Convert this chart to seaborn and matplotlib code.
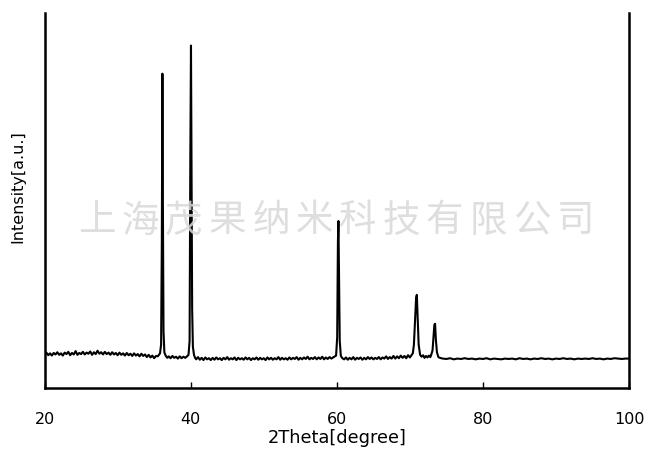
import matplotlib
matplotlib.use("Agg")
import matplotlib.pyplot as plt
import seaborn as sns
import numpy as np
import pandas as pd

# ── XRD pattern (2theta in degrees, counts a.u.) ──
two_theta = [
    # 20 - 35.5 noisy baseline
    20.00, 20.25, 20.50, 20.75, 21.00, 21.25, 21.50, 21.75, 22.00, 22.25,
    22.50, 22.75, 23.00, 23.25, 23.50, 23.75, 24.00, 24.25, 24.50, 24.75,
    25.00, 25.25, 25.50, 25.75, 26.00, 26.25, 26.50, 26.75, 27.00, 27.25,
    27.50, 27.75, 28.00, 28.25, 28.50, 28.75, 29.00, 29.25, 29.50, 29.75,
    30.00, 30.25, 30.50, 30.75, 31.00, 31.25, 31.50, 31.75, 32.00, 32.25,
    32.50, 32.75, 33.00, 33.25, 33.50, 33.75, 34.00, 34.25, 34.50, 34.75,
    35.00, 35.25, 35.50,
    # peaks at 36.1 and 40.0
    35.80, 35.95, 36.05, 36.13, 36.20, 36.28, 36.40, 36.60,
    36.80, 37.00, 37.25, 37.50, 37.75, 38.00, 38.25, 38.50, 38.75, 39.00,
    39.25, 39.50, 39.70, 39.85, 39.95, 40.04, 40.10, 40.20, 40.30, 40.45,
    40.60,
    # 40.75 - 59.75 baseline
    40.75, 41.00, 41.25, 41.50, 41.75, 42.00, 42.25, 42.50, 42.75, 43.00,
    43.25, 43.50, 43.75, 44.00, 44.25, 44.50, 44.75, 45.00, 45.25, 45.50,
    45.75, 46.00, 46.25, 46.50, 46.75, 47.00, 47.25, 47.50, 47.75, 48.00,
    48.25, 48.50, 48.75, 49.00, 49.25, 49.50, 49.75, 50.00, 50.25, 50.50,
    50.75, 51.00, 51.25, 51.50, 51.75, 52.00, 52.25, 52.50, 52.75, 53.00,
    53.25, 53.50, 53.75, 54.00, 54.25, 54.50, 54.75, 55.00, 55.25, 55.50,
    55.75, 56.00, 56.25, 56.50, 56.75, 57.00, 57.25, 57.50, 57.75, 58.00,
    58.25, 58.50, 58.75, 59.00, 59.25, 59.50, 59.75,
    # peak at 60.2
    59.90, 60.05, 60.15, 60.22, 60.30, 60.40, 60.55,
    # 60.75 - 70.25 baseline
    60.75, 61.00, 61.25, 61.50, 61.75, 62.00, 62.25, 62.50, 62.75, 63.00,
    63.25, 63.50, 63.75, 64.00, 64.25, 64.50, 64.75, 65.00, 65.25, 65.50,
    65.75, 66.00, 66.25, 66.50, 66.75, 67.00, 67.25, 67.50, 67.75, 68.00,
    68.25, 68.50, 68.75, 69.00, 69.25, 69.50, 69.75, 70.00, 70.25,
    # peaks at 70.9 and 73.4
    70.40, 70.55, 70.75, 70.85, 70.95, 71.05, 71.20, 71.40, 71.60, 71.80,
    72.00, 72.20, 72.40, 72.60, 72.80, 72.95, 73.10, 73.25, 73.35, 73.45,
    73.55, 73.70, 73.90, 74.10, 74.30,
    # 74.5 - 100 quiet baseline
    74.5, 75.0, 75.5, 76.0, 76.5, 77.0, 77.5, 78.0, 78.5, 79.0,
    79.5, 80.0, 80.5, 81.0, 81.5, 82.0, 82.5, 83.0, 83.5, 84.0,
    84.5, 85.0, 85.5, 86.0, 86.5, 87.0, 87.5, 88.0, 88.5, 89.0,
    89.5, 90.0, 90.5, 91.0, 91.5, 92.0, 92.5, 93.0, 93.5, 94.0,
    94.5, 95.0, 95.5, 96.0, 96.5, 97.0, 97.5, 98.0, 98.5, 99.0,
    99.5, 100.0,
]
intensity = [
    88, 94, 87, 92, 86, 93, 89, 95, 88, 92,
    86, 94, 90, 96, 87, 93, 89, 98, 88, 93,
    90, 96, 89, 94, 91, 97, 88, 95, 90, 99,
    91, 95, 89, 96, 90, 94, 88, 95, 89, 93,
    87, 94, 88, 92, 86, 93, 87, 91, 85, 92,
    86, 90, 84, 91, 85, 89, 82, 88, 81, 86,
    79, 85, 84,
    92, 115, 390, 838, 470, 150, 94, 85,
    80, 84, 79, 85, 80, 83, 78, 84, 79, 83,
    80, 84, 88, 125, 610, 913, 640, 210, 110, 88,
    80,
    76, 82, 75, 80, 74, 81, 76, 79, 74, 80,
    75, 81, 76, 79, 74, 80, 76, 82, 75, 79,
    76, 81, 74, 80, 76, 79, 75, 81, 76, 80,
    74, 79, 76, 81, 75, 80, 76, 79, 74, 81,
    76, 80, 75, 79, 76, 82, 75, 80, 76, 79,
    75, 81, 76, 80, 77, 82, 75, 80, 76, 81,
    77, 83, 76, 80, 77, 82, 76, 81, 77, 83,
    76, 81, 77, 82, 78, 81, 84,
    86, 135, 390, 445, 300, 125, 85,
    79, 76, 81, 75, 80, 76, 82, 75, 80, 77,
    81, 75, 80, 76, 82, 77, 81, 76, 80, 77,
    82, 76, 81, 78, 84, 77, 82, 78, 85, 78,
    84, 79, 86, 80, 85, 79, 87, 81, 88,
    92, 115, 200, 240, 248, 195, 115, 88, 83, 87,
    80, 85, 81, 86, 82, 90, 100, 140, 168, 171,
    130, 95, 82, 80, 79,
    78, 77, 79, 76, 78, 77, 79, 77, 78, 76,
    78, 77, 79, 76, 78, 77, 76, 78, 77, 78,
    76, 79, 77, 78, 76, 78, 77, 79, 77, 78,
    76, 78, 77, 79, 77, 78, 76, 78, 77, 78,
    77, 79, 77, 78, 76, 78, 77, 79, 78, 77,
    78, 78,
]
assert len(two_theta) == len(intensity)

x_ticks = [20, 40, 60, 80, 100]
watermark = "上海茂果纳米科技有限公司"

df = pd.DataFrame({"2theta": two_theta, "I": intensity})

sns.set_style("white")
plt.rcParams["font.family"] = ["DejaVu Sans", "Noto Sans CJK SC"]

fig = plt.figure(figsize=(6.65, 4.64), dpi=100)
ax = fig.add_axes([0.067, 0.162, 0.879, 0.808])

sns.lineplot(data=df, x="2theta", y="I", ax=ax, color="black",
             linewidth=1.5, estimator=None, sort=False)

ax.set_xlim(20, 100)
ax.set_ylim(0, 1000)
ax.set_xticks(x_ticks)
ax.set_xticklabels([str(t) for t in x_ticks], fontsize=11.5)
ax.set_yticks([])
ax.tick_params(axis="x", direction="in", length=4, width=1, pad=17,
               colors="black", bottom=True)
ax.set_xlabel("2Theta[degree]", fontsize=12.8, labelpad=1, color="black")
ax.set_ylabel("Intensity[a.u.]", fontsize=11.5, color="black")
ax.yaxis.set_label_coords(-0.033, 0.54)

ax.spines["top"].set_visible(False)
for side in ["left", "right", "bottom"]:
    ax.spines[side].set_visible(True)
    ax.spines[side].set_color("black")
    ax.spines[side].set_linewidth(1.8)

# watermark across the plot
xs = np.linspace(97 / 665, 575 / 665, len(watermark))
for ch, xp in zip(watermark, xs):
    fig.text(xp, 1 - 221 / 464, ch, ha="center", va="center", fontsize=27,
             color="#d9d9d9", alpha=0.85, family="Noto Sans CJK SC",
             zorder=10)

fig.savefig("out.png", dpi=100)
